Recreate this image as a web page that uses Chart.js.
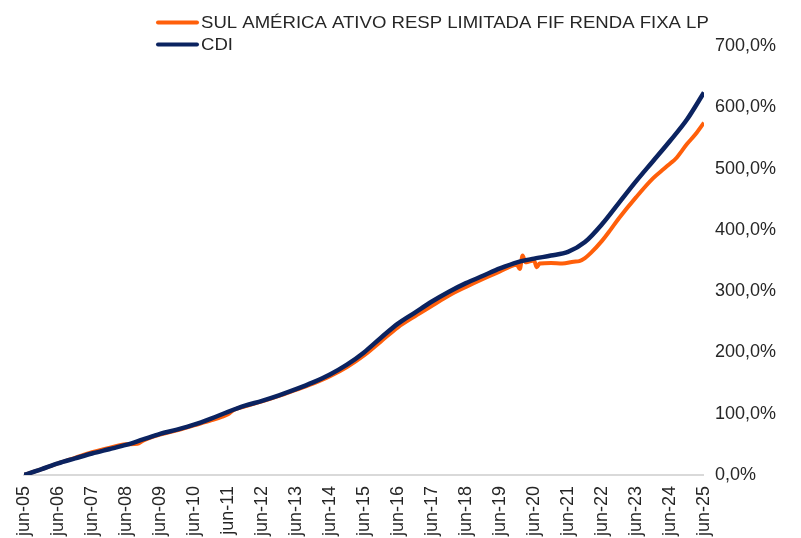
<!DOCTYPE html>
<html>
<head>
<meta charset="utf-8">
<script src="https://cdn.jsdelivr.net/npm/chart.js@4.4.0/dist/chart.umd.min.js"></script>
<style>
  html, body { margin: 0; padding: 0; background: #ffffff; }
  #wrap { width: 801px; height: 538px; position: relative; }
</style>
</head>
<body>
<div id="wrap"><canvas id="c" width="801" height="538"></canvas></div>
<script>
// ---- data (months since jun-05, cumulative return in %) ----
const tickLabels = ['jun-05','jun-06','jun-07','jun-08','jun-09','jun-10','jun-11','jun-12','jun-13','jun-14','jun-15','jun-16','jun-17','jun-18','jun-19','jun-20','jun-21','jun-22','jun-23','jun-24','jun-25'];

const seriesNames = ['SUL AMÉRICA ATIVO RESP LIMITADA FIF RENDA FIXA LP', 'CDI'];

const cdiMonths = [0,6,12,18,24,30,36,42,48,54,60,66,72,78,84,90,96,102,108,114,120,126,132,138,144,150,156,162,168,174,180,186,192,198,204,210,216,222,228,234,240];
const cdiValues = [0,9,19,27,35,42,49,58,67,74,82,92,103,113,121,130,140,151,164,180,200,224,247,265,283,299,313,325,337,347,353,358,364,380,409,444,479,512,545,580,624];

const fundMonths = [0,6,12,18,24,30,36,40,42,48,54,60,66,70,72,74,78,84,90,96,102,108,114,120,126,132,138,144,150,156,162,168,172,174,175,176,177,178,179,180,181,182,186,190,194,196,198,200,204,207,210,216,222,226,228,230,234,237,240];
const fundValues = [0,9,19,28,37,44,50,51,56,66,73,81,89,95,99,106,112,120,129,139,149,161,176,195,218,241,259,276,293,307,320,332,341,343,336,358,347,348,349,350,339,345,346,345,348,349,354,362,382,400,419,453,484,500,508,516,540,556,575];

const yTicks = [0,100,200,300,400,500,600,700];

const colors = ['#FF5F0A', '#0B2360'];
const FONT = "'Liberation Sans', Arial, sans-serif";

const toXY = (xs, ys) => xs.map((x, i) => ({ x: x, y: ys[i] }));

const legendPlugin = {
  id: 'customLegend',
  afterDraw(chart) {
    const ctx = chart.ctx;
    seriesNames.forEach((name, i) => {
      const y = 22.5 + i * 22;
      ctx.save();
      ctx.strokeStyle = colors[i];
      ctx.lineWidth = 4;
      ctx.lineCap = 'round';
      ctx.beginPath();
      ctx.moveTo(158, y);
      ctx.lineTo(197, y);
      ctx.stroke();
      ctx.translate(201, y + 1);
      ctx.scale(1.125, 1);
      ctx.font = '16.5px ' + FONT;
      ctx.textBaseline = 'middle';
      ctx.textAlign = 'left';
      ctx.fillStyle = '#262626';
      ctx.fillText(name, 0, 0);
      ctx.restore();
    });
  }
};

new Chart(document.getElementById('c'), {
  type: 'line',
  data: {
    datasets: [
      {
        label: seriesNames[0],
        data: toXY(fundMonths, fundValues),
        borderColor: colors[0],
        backgroundColor: colors[0],
        borderWidth: 4,
        pointRadius: 0,
        cubicInterpolationMode: 'monotone',
        order: 2
      },
      {
        label: seriesNames[1],
        data: toXY(cdiMonths, cdiValues),
        borderColor: colors[1],
        backgroundColor: colors[1],
        borderWidth: 4.5,
        pointRadius: 0,
        cubicInterpolationMode: 'monotone',
        order: 1
      }
    ]
  },
  options: {
    responsive: false,
    animation: false,
    events: [],
    layout: { padding: { top: 46, right: 14, bottom: -9, left: 24 } },
    plugins: {
      legend: { display: false },
      tooltip: { enabled: false }
    },
    scales: {
      x: {
        type: 'linear',
        min: 0,
        max: 240,
        grid: { display: false, drawTicks: false },
        border: { display: true, color: '#D9D9D9', width: 2 },
        afterBuildTicks: (axis) => { axis.ticks = tickLabels.map((t, i) => ({ value: i * 12 })); },
        ticks: {
          autoSkip: false,
          maxRotation: 90,
          minRotation: 90,
          padding: 11,
          color: '#262626',
          font: { family: FONT, size: 18 },
          callback: (v) => tickLabels[Math.round(v / 12)]
        }
      },
      y: {
        position: 'right',
        min: 0,
        max: 700,
        grid: { display: false, drawTicks: false },
        border: { display: false },
        afterBuildTicks: (axis) => { axis.ticks = yTicks.map(v => ({ value: v })); },
        ticks: {
          padding: 11,
          color: '#262626',
          font: { family: FONT, size: 18 },
          callback: (v) => v.toFixed(1).replace('.', ',') + '%'
        }
      }
    }
  },
  plugins: [legendPlugin]
});
</script>
</body>
</html>
